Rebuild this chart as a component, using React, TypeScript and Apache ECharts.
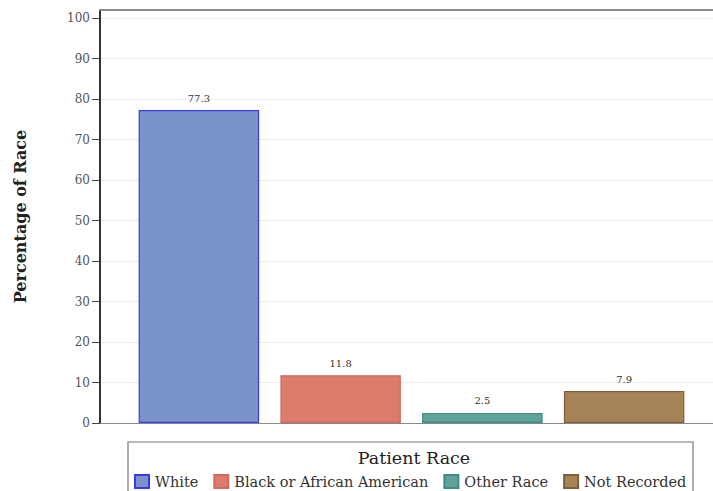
import React, { useEffect, useRef } from "react";
import * as echarts from "echarts";

const categories = ["White", "Black or African American", "Other Race", "Not Recorded"];
const values = [77.3, 11.8, 2.5, 7.9];
const fillColors = ["#7b93cb", "#dd7b6d", "#5fa39a", "#a7835a"];
const borderColors = ["#3a3ae6", "#d06a60", "#3f8a80", "#7f5f37"];
const yTicks = [0, 10, 20, 30, 40, 50, 60, 70, 80, 90, 100];
const yMax = 102;
const legendTitle = "Patient Race";
const yTitle = "Percentage of Race";

const FONT = "DejaVu Serif";

export default function App() {
  const ref = useRef<HTMLDivElement>(null);
  useEffect(() => {
    if (!ref.current) return;
    const chart = echarts.init(ref.current, null, { renderer: "svg" });
    const series = categories.map((name, i) => ({
      name,
      type: "bar",
      stack: "all",
      xAxisIndex: 2,
      yAxisIndex: 1,
      barWidth: "85%",
      data: categories.map((_, j) => (j === i ? values[i] : "-")),
      itemStyle: { color: fillColors[i], borderColor: borderColors[i], borderWidth: 1.2 },
      label: {
        show: true,
        position: "top",
        distance: 7,
        fontFamily: FONT,
        fontSize: 10,
        color: "#333",
        formatter: (p: any) => Number(p.value).toFixed(1),
      },
    }));
    chart.setOption({
      animation: false,
      backgroundColor: "#fff",
      grid: [
        { left: 100, right: 0, top: 10, bottom: 68 },
        { left: 128, right: 18, top: 10, bottom: 68 },
      ],
      xAxis: [
        {
          gridIndex: 0,
          type: "value",
          position: "bottom",
          min: 0,
          max: 1,
          axisLine: { show: true, onZero: false, lineStyle: { color: "#888", width: 1.2 } },
          axisTick: { show: false },
          axisLabel: { show: false },
          splitLine: { show: false },
        },
        {
          gridIndex: 0,
          type: "value",
          position: "top",
          min: 0,
          max: 1,
          axisLine: { show: true, onZero: false, lineStyle: { color: "#8a8a8a", width: 2 } },
          axisTick: { show: false },
          axisLabel: { show: false },
          splitLine: { show: false },
        },
        {
          gridIndex: 1,
          type: "category",
          data: categories,
          show: false,
        },
      ],
      yAxis: [
        {
          gridIndex: 0,
          type: "value",
          min: 0,
          max: yMax,
          interval: 10,
          name: yTitle,
          nameLocation: "middle",
          nameRotate: 90,
          nameGap: 72,
          nameTextStyle: { fontFamily: FONT, fontSize: 16, fontWeight: "bold", color: "#222" },
          axisLine: { show: true, lineStyle: { color: "#333", width: 2 } },
          axisTick: { show: true, length: 8, customValues: yTicks, lineStyle: { color: "#444", width: 1 } },
          axisLabel: {
            customValues: yTicks,
            margin: 10,
            fontFamily: FONT,
            fontSize: 12,
            color: "#555",
          },
          splitLine: { show: true, lineStyle: { color: "#ececec", width: 1 } },
        },
        {
          gridIndex: 1,
          type: "value",
          min: 0,
          max: yMax,
          show: false,
          splitLine: { show: false },
        },
      ],
      title: {
        text: legendTitle,
        left: 409,
        top: 444,
        textAlign: "center",
        textStyle: { fontFamily: FONT, fontSize: 17.5, fontWeight: "normal", color: "#222" },
      },
      legend: {
        left: 129,
        top: 469,
        icon: "rect",
        itemWidth: 14,
        itemHeight: 13,
        itemGap: 15,
        textStyle: { fontFamily: FONT, fontSize: 14.5, color: "#333", padding: [0, 0, 0, 1] },
        data: categories,
      },
      graphic: [
        {
          type: "rect",
          shape: { x: 128, y: 442, width: 565, height: 60 },
          style: { fill: "none", stroke: "#777", lineWidth: 1.2 },
          z: 0,
          silent: true,
        },
      ],
      series,
    });
    return () => chart.dispose();
  }, []);
  return <div ref={ref} style={{ width: 713, height: 491, position: "absolute", left: 0, top: 0 }} />;
}
